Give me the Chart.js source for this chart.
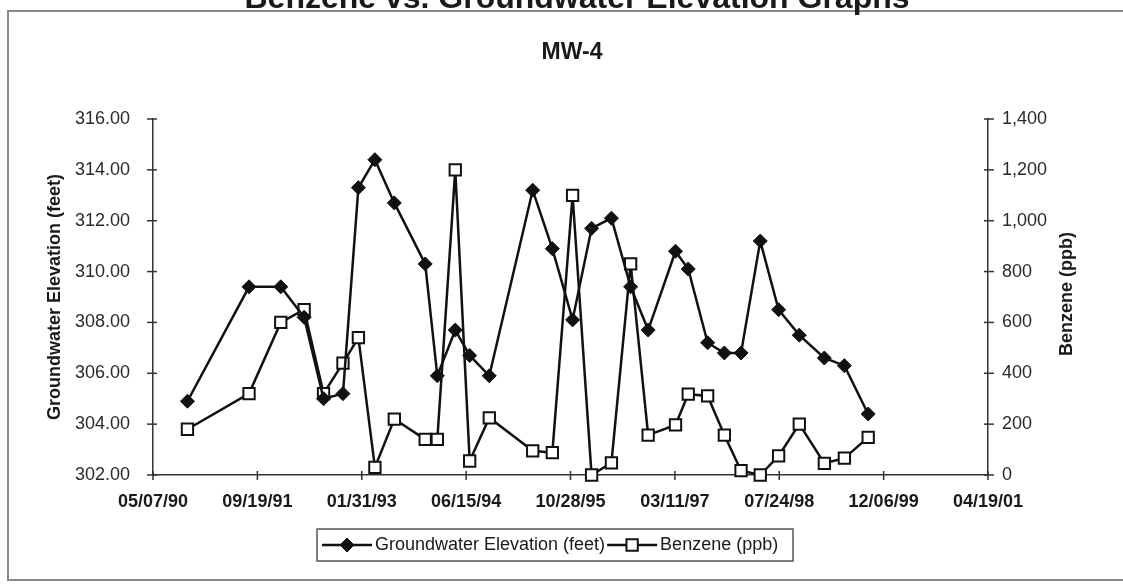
<!DOCTYPE html>
<html>
<head>
<meta charset="utf-8">
<script src="https://cdn.jsdelivr.net/npm/chart.js@4.4.1/dist/chart.umd.min.js"></script>
<style>
  html, body { margin: 0; padding: 0; background: #fff; }
</style>
</head>
<body>
<canvas id="grafica" width="1123" height="584"></canvas>
<script>
const titulo = "Benzene vs. Groundwater Elevation Graphs";
const subtitulo = "MW-4";
const etiquetaNivel = "Groundwater Elevation (feet)";
const etiquetaBenceno = "Benzene (ppb)";

// fechas de muestreo (MM/DD/YY)
const fechas = ["10/19/90", "08/10/91", "01/09/92", "04/30/92", "08/01/92", "11/02/92", "01/15/93", "04/04/93",
  "07/06/93", "12/01/93", "01/28/94", "04/24/94", "07/02/94", "10/04/94", "04/30/95", "08/02/95",
  "11/07/95", "02/06/96", "05/11/96", "08/11/96", "11/03/96", "03/14/97", "05/14/97", "08/15/97",
  "11/03/97", "01/22/98", "04/24/98", "07/21/98", "10/28/98", "02/25/99", "06/01/99", "09/23/99"];

const nivelAgua = [304.9, 309.4, 309.4, 308.2, 305.0, 305.2, 313.3, 314.4, 312.7, 310.3, 305.9, 307.7,
  306.7, 305.9, 313.2, 310.9, 308.1, 311.7, 312.1, 309.4, 307.7, 310.8, 310.1, 307.2,
  306.8, 306.8, 311.2, 308.5, 307.5, 306.6, 306.3, 304.4];

const benceno = [180, 320, 600, 650, 320, 440, 540, 30, 220, 140, 140, 1200,
  55, 225, 95, 88, 1100, 0, 48, 830, 157, 197, 318, 311,
  157, 17, 0, 75, 200, 46, 66, 148];

// eje x: del 05/07/90 al 04/19/01, cada 500 dias
const fechaInicio = "05/07/90";
const fechaFin = "04/19/01";
const pasoDias = 500;

const nivelMin = 302, nivelMax = 316, nivelPaso = 2;
const bencenoMin = 0, bencenoMax = 1400, bencenoPaso = 200;

const fuente = "'Liberation Sans', Arial, sans-serif";
Chart.defaults.font.family = fuente;

function aUTC(str) {
  const [m, d, y] = str.split("/").map(Number);
  const anio = y < 50 ? 2000 + y : 1900 + y;
  return Date.UTC(anio, m - 1, d);
}
const base = aUTC(fechaInicio);
function dia(str) {
  return Math.round((aUTC(str) - base) / 86400000);
}
function formatoFecha(v) {
  const f = new Date(base + v * 86400000);
  const mes = (f.getUTCMonth() + 1).toString().padStart(2, "0");
  const d = f.getUTCDate().toString().padStart(2, "0");
  const a = (f.getUTCFullYear() % 100).toString().padStart(2, "0");
  return `${mes}/${d}/${a}`;
}

const marco = {
  id: "marco",
  beforeDraw(chart) {
    const c = chart.ctx;
    c.save();
    c.fillStyle = "#fff";
    c.fillRect(0, 0, chart.width, chart.height);
    c.strokeStyle = "#8a8a8a";
    c.lineWidth = 2;
    c.strokeRect(8, 11, 1200, 569);
    c.fillStyle = "#1a1a1a";
    c.textAlign = "center";
    c.textBaseline = "alphabetic";
    c.font = "bold 32px " + fuente;
    c.fillText(titulo, 577, 8);
    c.font = "bold 23px " + fuente;
    c.textBaseline = "middle";
    c.fillText(subtitulo, 572, 53);
    c.restore();
  },
  afterDraw(chart) {
    const c = chart.ctx;
    const a = chart.chartArea;
    c.save();
    // marcas de los ejes que cruzan la linea
    c.strokeStyle = "#333";
    c.lineWidth = 1.5;
    const sx = chart.scales.x, sy = chart.scales.y, sy1 = chart.scales.y1;
    sx.ticks.forEach(t => {
      const p = sx.getPixelForValue(t.value);
      c.beginPath(); c.moveTo(p, a.bottom - 4); c.lineTo(p, a.bottom + 5); c.stroke();
    });
    sy.ticks.forEach(t => {
      const p = sy.getPixelForValue(t.value);
      c.beginPath(); c.moveTo(a.left - 6, p); c.lineTo(a.left + 4, p); c.stroke();
    });
    sy1.ticks.forEach(t => {
      const p = sy1.getPixelForValue(t.value);
      c.beginPath(); c.moveTo(a.right - 4, p); c.lineTo(a.right + 6, p); c.stroke();
    });

    // titulo del eje derecho (leido de abajo hacia arriba)
    c.fillStyle = "#1a1a1a";
    c.font = "bold 18px " + fuente;
    c.textAlign = "center";
    c.textBaseline = "middle";
    c.translate(1067, (a.top + a.bottom) / 2 - 3);
    c.rotate(-Math.PI / 2);
    c.fillText(etiquetaBenceno, 0, 0);
    c.restore();

    // leyenda
    c.save();
    c.font = "18px " + fuente;
    c.textBaseline = "middle";
    c.textAlign = "left";
    const ds = chart.data.datasets;
    const y = 545;
    let x = 322;
    c.strokeStyle = "#555";
    c.lineWidth = 1.5;
    c.strokeRect(317, 529, 476, 32);
    ds.forEach(d => {
      c.strokeStyle = "#111";
      c.lineWidth = d.borderWidth;
      c.beginPath(); c.moveTo(x, y); c.lineTo(x + 50, y); c.stroke();
      c.fillStyle = d.pointBackgroundColor;
      c.strokeStyle = d.pointBorderColor;
      c.lineWidth = d.pointBorderWidth || 1;
      c.beginPath();
      if (d.pointStyle === "rect") {
        const s = d.pointRadius * Math.SQRT1_2;
        c.rect(x + 25 - s, y - s, 2 * s, 2 * s);
      } else {
        const r = d.pointRadius;
        c.moveTo(x + 25, y - r); c.lineTo(x + 25 + r, y); c.lineTo(x + 25, y + r); c.lineTo(x + 25 - r, y); c.closePath();
      }
      c.fill(); c.stroke();
      c.fillStyle = "#1a1a1a";
      c.fillText(d.label, x + 53, y);
      x += 53 + c.measureText(d.label).width + 2;
    });
    c.restore();
  }
};

const ctx = document.getElementById("grafica").getContext("2d");
const puntosNivel = fechas.map((f, i) => ({ x: dia(f), y: nivelAgua[i] }));
const puntosBenceno = fechas.map((f, i) => ({ x: dia(f), y: benceno[i] }));

const miGrafica = new Chart(ctx, {
  type: "line",
  data: {
    datasets: [
      {
        label: etiquetaNivel,
        data: puntosNivel,
        yAxisID: "y",
        borderColor: "#111",
        borderWidth: 2.5,
        pointStyle: "rectRot",
        pointRadius: 7,
        pointBackgroundColor: "#111",
        pointBorderColor: "#111",
        pointBorderWidth: 1,
        tension: 0,
        fill: false,
        clip: false
      },
      {
        label: etiquetaBenceno,
        data: puntosBenceno,
        yAxisID: "y1",
        borderColor: "#111",
        borderWidth: 2.5,
        pointStyle: "rect",
        pointRadius: 8,
        pointBackgroundColor: "#fff",
        pointBorderColor: "#111",
        pointBorderWidth: 2,
        tension: 0,
        fill: false,
        clip: false
      }
    ]
  },
  options: {
    responsive: false,
    animation: false,
    layout: { padding: { top: 119, bottom: 0, left: 0, right: 0 } },
    plugins: {
      legend: { display: false },
      tooltip: { enabled: false }
    },
    scales: {
      x: {
        type: "linear",
        min: 0,
        max: dia(fechaFin),
        ticks: {
          stepSize: pasoDias,
          autoSkip: false,
          maxRotation: 0,
          padding: 16,
          color: "#1a1a1a",
          font: { size: 18, weight: "bold" },
          callback: v => formatoFecha(v)
        },
        grid: { display: true, drawOnChartArea: false, drawTicks: false },
        border: { color: "#333", width: 1.5 },
        afterFit(s) { s.height = 109; }
      },
      y: {
        position: "left",
        min: nivelMin,
        max: nivelMax,
        ticks: {
          stepSize: nivelPaso,
          padding: 23,
          color: "#2a2a2a",
          font: { size: 18 },
          callback: v => Number(v).toFixed(2)
        },
        title: {
          display: true,
          text: etiquetaNivel,
          color: "#1a1a1a",
          font: { size: 18, weight: "bold" },
          padding: { top: 44, bottom: 0 }
        },
        grid: { display: true, drawOnChartArea: false, drawTicks: false },
        border: { color: "#333", width: 1.5 },
        afterFit(s) { s.width = 153; }
      },
      y1: {
        position: "right",
        min: bencenoMin,
        max: bencenoMax,
        ticks: {
          stepSize: bencenoPaso,
          padding: 14,
          color: "#2a2a2a",
          font: { size: 18 },
          callback: v => Number(v).toLocaleString("en-US")
        },
        grid: { display: true, drawOnChartArea: false, drawTicks: false },
        border: { color: "#333", width: 1.5 },
        afterFit(s) { s.width = 135; }
      }
    }
  },
  plugins: [marco]
});
</script>
</body>
</html>
